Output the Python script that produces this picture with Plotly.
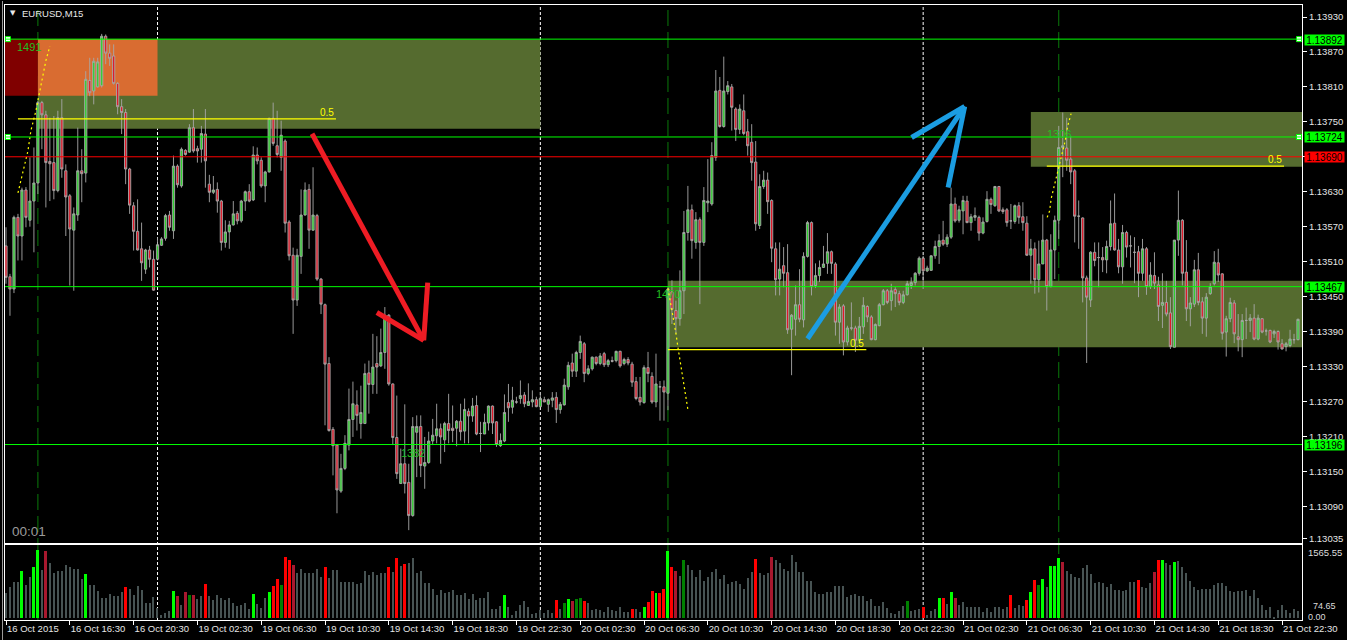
import plotly.graph_objects as go

# ---------------- DATA : EURUSD M15, 325 bars (16 Oct 2015 12:30 -> 21 Oct 2015 23:30) ----------------
opens = [
1.13537,1.13484,1.13463,1.13586,1.13554,1.13633,1.13581,1.13614,1.13645,1.13783,
1.13762,1.13682,1.13680,1.13632,1.13757,1.13666,1.13623,1.13564,1.13590,1.13666,
1.13662,1.13821,1.13803,1.13810,1.13812,1.13897,1.13868,1.13863,1.13816,1.13776,
1.13766,1.13669,1.13606,1.13562,1.13532,1.13497,1.13530,1.13514,1.13514,1.13538,
1.13550,1.13590,1.13563,1.13674,1.13640,1.13701,1.13698,1.13740,1.13704,1.13703,
1.13729,1.13643,1.13629,1.13634,1.13614,1.13543,1.13561,1.13573,1.13593,1.13580,
1.13614,1.13630,1.13616,1.13693,1.13684,1.13640,1.13664,1.13756,1.13709,1.13689,
1.13717,1.13578,1.13521,1.13444,1.13519,1.13590,1.13634,1.13564,1.13589,1.13480,
1.13436,1.13335,1.13222,1.13195,1.13116,1.13155,1.13195,1.13239,1.13264,1.13232,
1.13232,1.13319,1.13299,1.13335,1.13331,1.13354,1.13418,1.13300,1.13208,1.13129,
1.13163,1.13131,1.13074,1.13217,1.13227,1.13159,1.13165,1.13202,1.13211,1.13223,
1.13204,1.13232,1.13224,1.13224,1.13236,1.13219,1.13253,1.13245,1.13263,1.13215,
1.13214,1.13233,1.13262,1.13235,1.13194,1.13202,1.13268,1.13260,1.13269,1.13275,
1.13281,1.13263,1.13269,1.13273,1.13261,1.13273,1.13265,1.13272,1.13277,1.13256,
1.13264,1.13295,1.13336,1.13322,1.13354,1.13369,1.13318,1.13326,1.13346,1.13335,
1.13352,1.13333,1.13340,1.13340,1.13356,1.13335,1.13342,1.13334,1.13304,1.13277,
1.13268,1.13328,1.13313,1.13269,1.13295,1.13295,1.13284,1.13458,1.13426,1.13412,
1.13460,1.13560,1.13599,1.13543,1.13582,1.13543,1.13611,1.13609,1.13689,1.13804,
1.13742,1.13802,1.13810,1.13772,1.13737,1.13769,1.13733,1.13715,1.13681,1.13572,
1.13639,1.13650,1.13615,1.13532,1.13480,1.13503,1.13491,1.13394,1.13411,1.13436,
1.13410,1.13519,1.13577,1.13469,1.13486,1.13500,1.13507,1.13527,1.13506,1.13406,
1.13434,1.13372,1.13396,1.13396,1.13375,1.13398,1.13433,1.13415,1.13376,1.13400,
1.13436,1.13460,1.13443,1.13462,1.13455,1.13440,1.13453,1.13469,1.13474,1.13490,
1.13516,1.13494,1.13495,1.13520,1.13536,1.13547,1.13540,1.13552,1.13609,1.13581,
1.13597,1.13614,1.13577,1.13586,1.13586,1.13559,1.13579,1.13617,1.13606,1.13639,
1.13599,1.13599,1.13580,1.13579,1.13606,1.13587,1.13576,1.13521,1.13532,1.13479,
1.13506,1.13547,1.13467,1.13530,1.13581,1.13706,1.13705,1.13686,1.13666,1.13588,
1.13585,1.13482,1.13444,1.13526,1.13517,1.13517,1.13513,1.13536,1.13576,1.13530,
1.13501,1.13560,1.13537,1.13526,1.13527,1.13490,1.13532,1.13467,1.13486,1.13470,
1.13435,1.13440,1.13422,1.13363,1.13547,1.13581,1.13492,1.13429,1.13437,1.13496,
1.13441,1.13413,1.13455,1.13472,1.13508,1.13489,1.13389,1.13412,1.13439,1.13381,
1.13376,1.13409,1.13409,1.13413,1.13377,1.13412,1.13391,1.13392,1.13386,1.13390,
1.13369,1.13364,1.13366,1.13376,1.13376]

highs = [
1.13569,1.13489,1.13589,1.13592,1.13637,1.13638,1.13689,1.13706,1.13786,1.13786,
1.13769,1.13757,1.13760,1.13769,1.13789,1.13677,1.13626,1.13603,1.13740,1.13703,
1.13837,1.13860,1.13860,1.13860,1.13901,1.13900,1.13883,1.13883,1.13818,1.13789,
1.13772,1.13671,1.13612,1.13617,1.13577,1.13532,1.13537,1.13529,1.13552,1.13552,
1.13592,1.13597,1.13692,1.13677,1.13706,1.13703,1.13746,1.13772,1.13709,1.13743,
1.13772,1.13659,1.13657,1.13646,1.13616,1.13581,1.13580,1.13614,1.13597,1.13616,
1.13632,1.13643,1.13708,1.13706,1.13689,1.13666,1.13757,1.13783,1.13769,1.13752,
1.13720,1.13581,1.13534,1.13532,1.13634,1.13646,1.13643,1.13672,1.13592,1.13482,
1.13438,1.13346,1.13226,1.13197,1.13180,1.13212,1.13292,1.13304,1.13289,1.13297,
1.13335,1.13340,1.13386,1.13382,1.13395,1.13432,1.13420,1.13301,1.13280,1.13189,
1.13265,1.13163,1.13243,1.13246,1.13246,1.13209,1.13218,1.13240,1.13266,1.13232,
1.13235,1.13283,1.13263,1.13238,1.13266,1.13275,1.13258,1.13276,1.13280,1.13235,
1.13249,1.13263,1.13263,1.13236,1.13215,1.13282,1.13300,1.13295,1.13278,1.13306,
1.13286,1.13301,1.13289,1.13278,1.13286,1.13278,1.13275,1.13286,1.13286,1.13269,
1.13309,1.13338,1.13352,1.13357,1.13383,1.13372,1.13332,1.13347,1.13347,1.13353,
1.13355,1.13343,1.13347,1.13357,1.13357,1.13345,1.13346,1.13338,1.13312,1.13312,
1.13332,1.13355,1.13320,1.13352,1.13305,1.13306,1.13466,1.13478,1.13443,1.13495,
1.13597,1.13640,1.13608,1.13595,1.13586,1.13638,1.13686,1.13715,1.13839,1.13827,
1.13862,1.13820,1.13815,1.13775,1.13780,1.13797,1.13755,1.13746,1.13717,1.13660,
1.13666,1.13663,1.13617,1.13543,1.13543,1.13535,1.13540,1.13420,1.13469,1.13497,
1.13526,1.13580,1.13579,1.13507,1.13512,1.13537,1.13559,1.13529,1.13509,1.13437,
1.13437,1.13400,1.13440,1.13400,1.13415,1.13449,1.13435,1.13418,1.13404,1.13439,
1.13463,1.13463,1.13472,1.13466,1.13460,1.13460,1.13477,1.13483,1.13492,1.13519,
1.13520,1.13503,1.13521,1.13546,1.13557,1.13580,1.13557,1.13637,1.13620,1.13606,
1.13623,1.13623,1.13592,1.13603,1.13589,1.13586,1.13631,1.13620,1.13640,1.13640,
1.13603,1.13602,1.13609,1.13608,1.13612,1.13612,1.13588,1.13549,1.13543,1.13546,
1.13591,1.13549,1.13557,1.13589,1.13743,1.13766,1.13757,1.13726,1.13669,1.13615,
1.13586,1.13486,1.13528,1.13543,1.13543,1.13535,1.13546,1.13615,1.13627,1.13549,
1.13573,1.13563,1.13555,1.13552,1.13537,1.13549,1.13535,1.13509,1.13526,1.13484,
1.13490,1.13477,1.13449,1.13547,1.13632,1.13583,1.13547,1.13449,1.13513,1.13525,
1.13449,1.13456,1.13473,1.13528,1.13532,1.13490,1.13417,1.13448,1.13444,1.13420,
1.13420,1.13431,1.13420,1.13437,1.13419,1.13413,1.13395,1.13393,1.13393,1.13392,
1.13377,1.13372,1.13393,1.13386,1.13412]

lows = [
1.13472,1.13417,1.13456,1.13512,1.13512,1.13569,1.13570,1.13526,1.13626,1.13703,
1.13603,1.13614,1.13617,1.13629,1.13654,1.13554,1.13469,1.13460,1.13580,1.13612,
1.13646,1.13794,1.13780,1.13809,1.13809,1.13849,1.13846,1.13814,1.13763,1.13729,
1.13643,1.13592,1.13529,1.13529,1.13477,1.13489,1.13500,1.13460,1.13512,1.13537,
1.13546,1.13563,1.13549,1.13637,1.13637,1.13692,1.13697,1.13697,1.13680,1.13680,
1.13637,1.13612,1.13626,1.13594,1.13529,1.13534,1.13532,1.13572,1.13574,1.13577,
1.13597,1.13612,1.13614,1.13677,1.13637,1.13612,1.13663,1.13709,1.13689,1.13666,
1.13560,1.13512,1.13386,1.13434,1.13489,1.13589,1.13532,1.13563,1.13477,1.13420,
1.13229,1.13218,1.13143,1.13078,1.13113,1.13152,1.13186,1.13209,1.13220,1.13206,
1.13232,1.13249,1.13283,1.13283,1.13329,1.13326,1.13297,1.13195,1.13137,1.13129,
1.13112,1.13049,1.13072,1.13140,1.13140,1.13120,1.13163,1.13195,1.13198,1.13163,
1.13183,1.13198,1.13200,1.13193,1.13203,1.13198,1.13198,1.13235,1.13212,1.13183,
1.13214,1.13220,1.13214,1.13192,1.13192,1.13200,1.13235,1.13249,1.13266,1.13266,
1.13260,1.13263,1.13260,1.13260,1.13260,1.13269,1.13252,1.13260,1.13233,1.13249,
1.13263,1.13290,1.13312,1.13312,1.13343,1.13303,1.13315,1.13323,1.13332,1.13332,
1.13329,1.13329,1.13337,1.13337,1.13328,1.13332,1.13332,1.13295,1.13272,1.13263,
1.13266,1.13303,1.13266,1.13260,1.13237,1.13237,1.13255,1.13403,1.13386,1.13400,
1.13420,1.13546,1.13515,1.13532,1.13437,1.13537,1.13595,1.13606,1.13683,1.13740,
1.13740,1.13797,1.13735,1.13717,1.13729,1.13727,1.13692,1.13649,1.13563,1.13566,
1.13635,1.13592,1.13509,1.13452,1.13452,1.13466,1.13386,1.13315,1.13383,1.13406,
1.13397,1.13517,1.13452,1.13465,1.13475,1.13499,1.13489,1.13489,1.13383,1.13369,
1.13349,1.13366,1.13392,1.13355,1.13372,1.13386,1.13406,1.13375,1.13375,1.13399,
1.13435,1.13437,1.13426,1.13432,1.13435,1.13437,1.13452,1.13463,1.13469,1.13486,
1.13463,1.13492,1.13494,1.13515,1.13506,1.13537,1.13535,1.13549,1.13577,1.13577,
1.13557,1.13576,1.13563,1.13580,1.13546,1.13557,1.13577,1.13592,1.13604,1.13595,
1.13592,1.13570,1.13566,1.13575,1.13575,1.13563,1.13520,1.13472,1.13455,1.13457,
1.13506,1.13426,1.13466,1.13480,1.13549,1.13655,1.13666,1.13643,1.13543,1.13532,
1.13440,1.13336,1.13432,1.13502,1.13466,1.13492,1.13490,1.13529,1.13529,1.13490,
1.13472,1.13517,1.13500,1.13473,1.13449,1.13477,1.13453,1.13463,1.13463,1.13408,
1.13396,1.13416,1.13360,1.13363,1.13520,1.13469,1.13408,1.13399,1.13432,1.13435,
1.13386,1.13381,1.13453,1.13469,1.13475,1.13376,1.13347,1.13406,1.13370,1.13356,
1.13346,1.13377,1.13389,1.13375,1.13375,1.13387,1.13383,1.13370,1.13379,1.13359,
1.13359,1.13356,1.13363,1.13369,1.13375]

closes = [
1.13483,1.13463,1.13586,1.13554,1.13633,1.13586,1.13614,1.13645,1.13783,1.13762,
1.13680,1.13678,1.13632,1.13757,1.13669,1.13621,1.13566,1.13592,1.13666,1.13661,
1.13823,1.13800,1.13854,1.13853,1.13897,1.13868,1.13859,1.13816,1.13776,1.13766,
1.13669,1.13607,1.13562,1.13530,1.13508,1.13530,1.13514,1.13461,1.13539,1.13549,
1.13589,1.13569,1.13674,1.13642,1.13703,1.13694,1.13740,1.13700,1.13700,1.13730,
1.13683,1.13629,1.13633,1.13614,1.13543,1.13561,1.13573,1.13592,1.13580,1.13614,
1.13630,1.13614,1.13693,1.13683,1.13640,1.13664,1.13756,1.13713,1.13694,1.13727,
1.13576,1.13520,1.13444,1.13521,1.13590,1.13633,1.13564,1.13590,1.13480,1.13437,
1.13334,1.13220,1.13194,1.13118,1.13155,1.13198,1.13239,1.13266,1.13246,1.13251,
1.13318,1.13299,1.13329,1.13329,1.13354,1.13418,1.13300,1.13208,1.13146,1.13163,
1.13129,1.13074,1.13227,1.13227,1.13160,1.13165,1.13202,1.13212,1.13223,1.13209,
1.13232,1.13220,1.13220,1.13236,1.13218,1.13256,1.13245,1.13262,1.13214,1.13215,
1.13234,1.13262,1.13233,1.13196,1.13203,1.13251,1.13259,1.13272,1.13269,1.13280,
1.13266,1.13270,1.13273,1.13261,1.13275,1.13269,1.13273,1.13276,1.13256,1.13265,
1.13298,1.13332,1.13322,1.13354,1.13373,1.13318,1.13326,1.13346,1.13335,1.13348,
1.13333,1.13340,1.13339,1.13356,1.13331,1.13342,1.13336,1.13303,1.13275,1.13269,
1.13328,1.13318,1.13269,1.13300,1.13295,1.13286,1.13463,1.13428,1.13412,1.13460,
1.13560,1.13599,1.13546,1.13582,1.13543,1.13615,1.13614,1.13692,1.13803,1.13742,
1.13803,1.13812,1.13775,1.13737,1.13772,1.13730,1.13709,1.13680,1.13575,1.13639,
1.13650,1.13613,1.13533,1.13479,1.13497,1.13490,1.13393,1.13418,1.13436,1.13411,
1.13519,1.13577,1.13467,1.13486,1.13500,1.13506,1.13527,1.13507,1.13406,1.13432,
1.13372,1.13396,1.13396,1.13375,1.13399,1.13435,1.13415,1.13376,1.13402,1.13436,
1.13460,1.13440,1.13460,1.13455,1.13440,1.13453,1.13472,1.13474,1.13490,1.13516,
1.13494,1.13499,1.13520,1.13536,1.13546,1.13540,1.13552,1.13609,1.13580,1.13599,
1.13615,1.13577,1.13587,1.13589,1.13559,1.13578,1.13617,1.13608,1.13639,1.13597,
1.13596,1.13577,1.13580,1.13606,1.13586,1.13577,1.13521,1.13532,1.13479,1.13506,
1.13547,1.13467,1.13530,1.13581,1.13706,1.13709,1.13684,1.13664,1.13588,1.13588,
1.13482,1.13449,1.13526,1.13512,1.13517,1.13513,1.13536,1.13575,1.13530,1.13501,
1.13560,1.13535,1.13537,1.13526,1.13490,1.13532,1.13467,1.13487,1.13473,1.13433,
1.13440,1.13420,1.13364,1.13547,1.13581,1.13490,1.13429,1.13439,1.13496,1.13440,
1.13413,1.13449,1.13467,1.13509,1.13487,1.13387,1.13412,1.13440,1.13386,1.13376,
1.13409,1.13409,1.13413,1.13377,1.13413,1.13389,1.13391,1.13372,1.13390,1.13372,
1.13360,1.13369,1.13377,1.13376,1.13411]

volumes = [
587,710,824,839,1083,763,938,1175,1565,1100,
1541,1259,1045,1091,1091,1221,1183,1122,1122,893,
1015,763,763,626,458,458,549,511,511,610,
717,664,534,740,649,359,359,496,229,76,
130,168,626,511,305,603,534,534,435,511,
786,511,420,534,458,420,473,359,282,305,
343,206,557,328,229,458,603,740,900,763,
1412,1335,1221,1045,1122,1045,1030,1030,1122,954,
1175,916,1106,1106,839,839,839,839,786,816,
1083,992,1053,992,1030,1045,1175,1068,1381,1198,
1244,1259,1381,1045,1083,816,801,671,534,641,587,610,
649,534,534,587,450,557,420,473,473,603,214,214,
282,534,252,76,168,298,397,252,99,130,
191,130,191,114,420,214,343,435,397,435,
458,397,359,191,206,191,153,252,191,168,
267,153,153,214,206,153,259,374,626,587,
587,671,1541,1175,1083,969,1335,1221,1106,938,
1106,855,954,1068,1122,900,992,786,839,862,
786,664,916,1053,1351,1045,992,1045,1396,1335,
1274,1122,1091,1450,1297,1068,1068,862,862,610,
549,549,610,595,740,740,740,496,534,549,
511,511,397,443,282,282,382,229,114,92,
168,282,397,168,191,206,252,76,176,214,
465,465,328,603,465,305,382,267,252,252,
252,153,229,153,267,252,221,252,534,229,
305,282,420,603,877,763,900,725,1198,1198,
1381,1289,1083,1007,954,931,1145,1228,1007,801,
824,801,710,778,649,649,633,649,824,839,
877,725,687,801,1061,1335,1335,1274,1221,1289,
1312,1183,1030,862,725,649,664,664,664,763,
801,816,748,633,610,633,633,649,511,649,
458,305,191,267,23,191,313,191,130,214,168]

# volume-indicator bar classes (bar indices); all others are neutral
vol_bull_climax = [4,7,8,20,42,62,66,125,141,160,163,166,234,237,257,260,262,263,264,290,293]
vol_bear_climax = [30,50,67,68,70,71,80,96,98,100,138,145,157,161,162,164,165,167,188,230,235,252,256,258,284,289]
vol_churn_down = [10,43,45,47,72,142,168,192,238,265,288]
vol_churn_up = [46,69,140,143,144,170,226,259]

tick_pos = [0,16,32,48,64,80,96,112,128,144,160,176,192,208,224,240,256,272,288,304,320]
tick_labels = ["16 Oct 2015","16 Oct 16:30","16 Oct 20:30","19 Oct 02:30","19 Oct 06:30",
               "19 Oct 10:30","19 Oct 14:30","19 Oct 18:30","19 Oct 22:30","20 Oct 02:30",
               "20 Oct 06:30","20 Oct 10:30","20 Oct 14:30","20 Oct 18:30","20 Oct 22:30",
               "21 Oct 02:30","21 Oct 06:30","21 Oct 10:30","21 Oct 14:30","21 Oct 18:30",
               "21 Oct 22:30"]
price_ticks = [1.13930,1.13870,1.13810,1.13750,1.13690,1.13630,1.13570,1.13510,1.13450,
               1.13390,1.13330,1.13270,1.13210,1.13150,1.13090,1.13035]

# horizontal levels (price, kind)
levels = [(1.13892,"lime"),(1.13724,"lime"),(1.13690,"red"),(1.13467,"lime"),(1.13196,"lime")]
day_separators = [38,134,230]
session_marks = [8,166,264]

# zones: (bar_from, bar_to or None=right edge, price_low, price_high, kind)
zones = [(8,134,1.13738,1.13892,"olive"),
         (257,None,1.13673,1.13767,"olive"),
         (166,None,1.13363,1.13477,"olive"),
         (-0.25,8,1.13795,1.13892,"maroon"),
         (8,38,1.13795,1.13892,"orange")]
# fib 0.5 lines: (bar_from, bar_to, price)
fib_lines = [(3,82.75,1.13755),(261,320.5,1.13674),(166,215.75,1.13359)]
# dotted fib arcs (bar, price)
arc1_x = [3.0,4.25,5.5,6.25,7.5,8.25,9.25,10.0,11.0]
arc1_y = [1.13628,1.13666,1.13700,1.13735,1.13769,1.13795,1.13829,1.13855,1.13880]
arc2_x = [166.0,166.7,167.5,168.0,168.5,169.2,170.0,170.75,171.0]
arc2_y = [1.13464,1.13438,1.13404,1.13387,1.13363,1.13335,1.13301,1.13272,1.13256]
arc3_x = [261.1,261.7,262.1,262.75,263.6,264.2,265.0,265.6,266.25,267.1]
arc3_y = [1.13586,1.13597,1.13618,1.13637,1.13661,1.13675,1.13700,1.13717,1.13743,1.13764]
# count labels (bar, price, text)
count_labels = [(5.8,1.13879,"1491"),(165.9,1.13455,"1470"),(264.0,1.13729,"1306"),(102.0,1.13181,"1382")]
# hand-drawn arrows: segments ((x0,y0),(x1,y1))
red_arrow = [((76.75,1.137295),(104.75,1.133747)),((93.0,1.134227),(104.75,1.133747)),((105.75,1.13474),(104.75,1.133747))]
blue_arrow = [((201.0,1.133776),(240.4,1.137763)),((227.1,1.137231),(240.4,1.137763)),((236.25,1.136374),(240.4,1.137763))]

n = len(opens)
assert n == len(highs) == len(lows) == len(closes) == len(volumes) == 325
bars = list(range(n))

# ---------------- STYLE / LAYOUT ----------------
W, H = 1347, 640
L_PX, R_PX, T_PX, B_PX = 4, 1305, 4, 620
FONT = "Liberation Sans"

def PX(px):
    return (px - L_PX) / (R_PX - L_PX)

def PY(py):
    return (B_PX - py) / (B_PX - T_PX)

col = {"lime": "#00ff00", "red": "#ff0000", "olive": "#556b2f", "maroon": "#800000", "orange": "#d96c31"}

fig = go.Figure()

fig.add_trace(go.Candlestick(
    x=bars, open=opens, high=highs, low=lows, close=closes,
    increasing=dict(line=dict(color="#a8a8a8", width=0.9), fillcolor="#2fd02f"),
    decreasing=dict(line=dict(color="#a8a8a8", width=0.9), fillcolor="#e01828"),
    whiskerwidth=0, hoverinfo="skip", xaxis="x", yaxis="y"))

vcol, vwid = [], []
for i in bars:
    if i in vol_bull_climax:
        vcol.append("#00ff00"); vwid.append(0.75)
    elif i in vol_bear_climax:
        vcol.append("#ff0000"); vwid.append(0.75)
    elif i in vol_churn_down:
        vcol.append("#a8182e"); vwid.append(0.75)
    elif i in vol_churn_up:
        vcol.append("#008000"); vwid.append(0.75)
    else:
        vcol.append("#475353"); vwid.append(0.28)
fig.add_trace(go.Bar(x=bars, y=volumes, marker=dict(color=vcol, line=dict(width=0)), width=vwid,
                     xaxis="x2", yaxis="y2", hoverinfo="skip"))

# fib arcs
for ax, ay in [(arc1_x, arc1_y), (arc2_x, arc2_y), (arc3_x, arc3_y)]:
    fig.add_trace(go.Scatter(x=ax, y=ay, mode="lines", line=dict(color="#ffff00", width=1.2, dash="2px,3px"),
                             hoverinfo="skip", xaxis="x", yaxis="y"))

# selected-object handles
fig.add_trace(go.Scatter(x=[0.5, 0.5, 324.25, 324.25], y=[1.13892, 1.13724, 1.13892, 1.13724], mode="markers",
                         marker=dict(symbol="square", size=5, color="white", line=dict(color="#00ff00", width=1)),
                         hoverinfo="skip", xaxis="x", yaxis="y"))

shapes = []
for x0, x1, y0, y1, kind in zones:
    shapes.append(dict(type="rect", xref="x", yref="y", x0=x0, x1=(325 if x1 is None else x1), y0=y0, y1=y1,
                       fillcolor=col[kind], line=dict(width=0), layer="below"))
for b in day_separators:
    shapes.append(dict(type="line", xref="x", yref="paper", x0=b, x1=b, y0=0, y1=1,
                       line=dict(color="white", width=1, dash="3px,2px"), layer="below"))
for b in session_marks:
    shapes.append(dict(type="line", xref="x", yref="paper", x0=b, x1=b, y0=0, y1=1,
                       line=dict(color="#0a7a0a", width=1, dash="16px,6px"), layer="below"))
for p, kind in levels:
    shapes.append(dict(type="line", xref="paper", yref="y", x0=0, x1=1, y0=p, y1=p,
                       line=dict(color=col[kind], width=1), layer="above"))
for x0, x1, p in fib_lines:
    shapes.append(dict(type="line", xref="x", yref="y", x0=x0, x1=x1, y0=p, y1=p,
                       line=dict(color="#ffff00", width=1.2), layer="above"))
for segs, c in [(red_arrow, "#ee1c24"), (blue_arrow, "#1b9de2")]:
    for (a, b) in segs:
        shapes.append(dict(type="line", xref="x", yref="y", x0=a[0], y0=a[1], x1=b[0], y1=b[1],
                           line=dict(color=c, width=5), layer="above"))
# window edge
shapes.append(dict(type="line", xref="paper", yref="paper", x0=PX(1.5), x1=PX(1.5), y0=PY(640), y1=PY(0),
                   line=dict(color="#9a9a9a", width=1)))

ann = []
ann.append(dict(xref="paper", yref="paper", x=PX(7), y=PY(12), text="▼", showarrow=False,
                xanchor="left", yanchor="middle", font=dict(family="DejaVu Sans", size=7, color="#e8e8e8")))
ann.append(dict(xref="paper", yref="paper", x=PX(19), y=PY(13), text="EURUSD,M15", showarrow=False,
                xanchor="left", yanchor="middle", font=dict(family=FONT, size=9.5, color="#e8e8e8")))
ann.append(dict(xref="paper", yref="paper", x=PX(9), y=PY(531), text="00:01", showarrow=False,
                xanchor="left", yanchor="middle", font=dict(family=FONT, size=13.5, color="#9a9a9a")))
for x, p, t in count_labels:
    ann.append(dict(xref="x", yref="y", x=x, y=p, text=t, showarrow=False, xanchor="center", yanchor="middle",
                    font=dict(family=FONT, size=11, color="#22c022")))
for x0, x1, p in fib_lines:
    ann.append(dict(xref="x", yref="y", x=x1, y=p, text="0.5", showarrow=False, xanchor="right", yanchor="bottom",
                    yshift=-1, font=dict(family=FONT, size=10, color="#ffff00")))
for p, kind in levels:
    ann.append(dict(xref="paper", yref="y", x=1, y=p, text=f"{p:.5f}", showarrow=False, xanchor="left",
                    yanchor="middle", xshift=2, yshift=-0.5, bgcolor=col[kind], width=39, height=10, borderpad=0,
                    align="center", font=dict(family=FONT, size=10, color="black")))
ann.append(dict(xref="paper", yref="paper", x=PX(1309), y=PY(552), text="1565.55", showarrow=False,
                xanchor="left", yanchor="middle", font=dict(family=FONT, size=9.5, color="#dcdcdc")))
ann.append(dict(xref="paper", yref="paper", x=PX(1314), y=PY(606), text="74.65", showarrow=False,
                xanchor="left", yanchor="middle", font=dict(family=FONT, size=9, color="#dcdcdc")))
ann.append(dict(xref="paper", yref="paper", x=PX(1309), y=PY(617), text="0.00", showarrow=False,
                xanchor="left", yanchor="middle", font=dict(family=FONT, size=9, color="#dcdcdc")))

main_bottom = PY(543)
vol_top = PY(545)
ymin, ymax = 1.130267, 1.139506

# the 1.13690 tick label is fully covered by the red level box in the original, which shows the same value
level_values = [p for p, _ in levels]
tick_text = ["" if v in level_values else f"{v:.5f}" for v in price_ticks]

fig.update_layout(
    width=W, height=H, margin=dict(l=L_PX, r=W - R_PX, t=T_PX, b=H - B_PX, pad=0),
    paper_bgcolor="black", plot_bgcolor="black", showlegend=False,
    shapes=shapes, annotations=ann, bargap=0, boxgap=0.2,
    xaxis=dict(domain=[0, 1], range=[-0.25, 325], anchor="y", showgrid=False, zeroline=False,
               showticklabels=False, ticks="", showline=True, mirror=True, linecolor="white", linewidth=1,
               rangeslider=dict(visible=False), fixedrange=True),
    yaxis=dict(domain=[main_bottom, 1], range=[ymin, ymax], side="right", anchor="x", showgrid=False,
               zeroline=False, tickmode="array", tickvals=price_ticks, ticktext=tick_text,
               ticks="outside", ticklen=4, tickcolor="white",
               tickfont=dict(family=FONT, size=9.5, color="#e6e6e6"),
               showline=True, mirror=True, linecolor="white", linewidth=1, fixedrange=True),
    xaxis2=dict(domain=[0, 1], range=[-0.25, 325], anchor="y2", matches="x", showgrid=False, zeroline=False,
                tickmode="array", tickvals=tick_pos, ticktext=tick_labels, ticks="outside", ticklen=4,
                tickcolor="white", ticklabelposition="outside right",
                tickfont=dict(family=FONT, size=9.5, color="#e6e6e6"),
                showline=True, mirror=True, linecolor="white", linewidth=1, fixedrange=True),
    yaxis2=dict(domain=[0, vol_top], range=[-34, 1679], side="right", anchor="x2", showgrid=False,
                zeroline=False, showticklabels=False, ticks="",
                showline=True, mirror=True, linecolor="white", linewidth=1, fixedrange=True),
)

fig.write_html("out.html")
